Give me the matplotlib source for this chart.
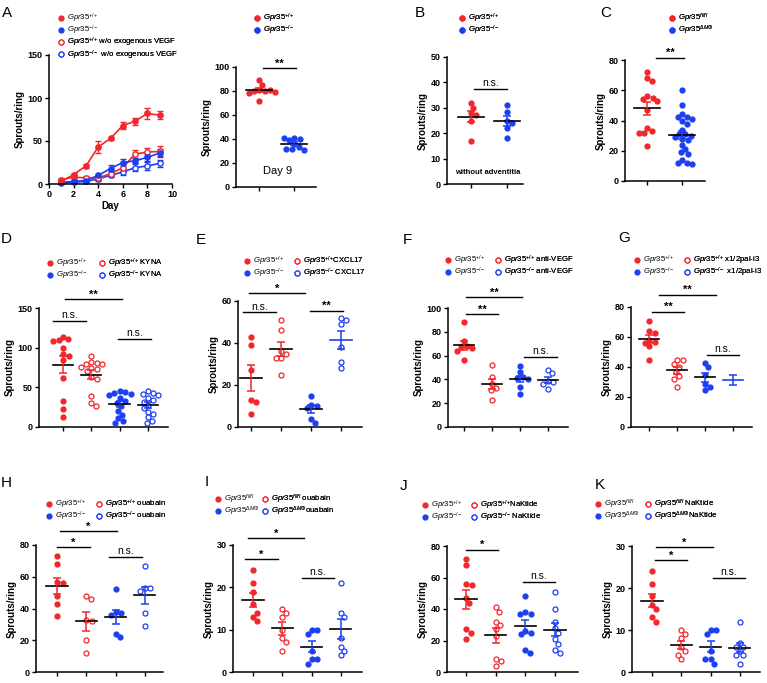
import numpy as np
import matplotlib.pyplot as plt
from matplotlib.lines import Line2D

plt.rcParams['font.family'] = 'Liberation Sans'
plt.rcParams['mathtext.fontset'] = 'custom'
plt.rcParams['mathtext.rm'] = 'Liberation Sans'
plt.rcParams['mathtext.it'] = 'Liberation Sans:italic'
plt.rcParams['mathtext.bf'] = 'Liberation Sans:bold'

RED = '#f2262b'
BLUE = '#1d3ff2'
FIG_W, FIG_H = 767, 683

# ============================================================
# DATA
# ============================================================
# A - time course
days = [1, 2, 3, 4, 5, 6, 7, 8, 9]
a_wt = [3, 11, 21, 43, 53, 68, 73, 82, 80]
a_wt_err = [1, 2, 2, 7, 2, 4, 4, 6, 5]
a_ko = [2, 3, 4, 10, 18, 25, 27, 31, 36]
a_ko_err = [1, 1, 1, 2, 4, 4, 3, 4, 5]
a_wt_novegf = [5, 8, 7, 7, 12, 19, 35, 37, 38]
a_wt_novegf_err = [2, 2, 2, 2, 3, 4, 5, 5, 6]
a_ko_novegf = [1, 2, 3, 6, 10, 14, 19, 21, 24]
a_ko_novegf_err = [1, 1, 1, 2, 2, 3, 4, 5, 4]

# A - day 9
a9_wt = [89, 85, 81, 80, 80, 81, 78, 79, 72]
a9_ko = [41, 40, 39, 41, 36, 33, 32, 32, 31]

# B - without adventitia
b_wt = [32, 30, 28, 27, 25, 17]
b_ko = [31, 28.5, 25, 24, 22, 18]

# C
c_fl = [72, 68, 66, 56, 55, 54, 53, 47, 35, 33, 32, 32, 23]
c_mo = [60, 50, 44, 42, 42, 41, 40, 38, 34, 31, 31, 30, 29, 28, 27, 24, 21, 19,
        18, 14, 12, 12, 11]

# D - KYNA
d_wt = [114, 111, 110, 109, 100, 92, 90, 85, 62, 33, 23, 13]
d_wt_kyna = [89, 82, 81, 80, 79, 76, 75, 73, 70, 63, 61, 39, 30, 27]
d_ko = [45, 44, 43, 42, 40, 36, 33, 30, 26, 20, 15, 11, 8, 5]
d_ko_kyna = [45, 43, 42, 40, 37, 34, 32, 28, 24, 19, 17, 12, 8, 5]

# E - CXCL17
e_wt = [43, 39, 27, 13, 12, 6]
e_wt_cx = [51, 46, 36, 35, 33, 33, 25]
e_ko = [15, 10.5, 10, 9, 4, 2]
e_ko_cx = [52, 51, 49, 38, 31, 28]

# F - anti-VEGF
f_wt = [88, 72, 68, 67, 66, 64, 56]
f_wt_av = [52, 42, 36, 33, 31, 23]
f_ko = [51, 46, 42, 41, 40, 34, 28]
f_ko_av = [48, 45, 39, 38, 36, 32]

# G - x1/2pal-i3
g_wt = [71, 64, 63, 58, 57, 56, 54, 45]
g_wt_pal = [45, 45, 42, 40, 37, 34, 32, 27]
g_ko = [43, 40, 35, 29, 27, 25]
g_ko_pal = []
g_ko_pal_mean, g_ko_pal_sem = 31.6, 3.3

# H - ouabain
h_wt = [73, 68, 57, 56, 48, 43, 35]
h_wt_oua = [48, 46, 33, 32, 20, 12]
h_ko = [52, 38, 37, 36, 24, 22]
h_ko_oua = [67, 53, 53, 51, 37, 29]

# I - ouabain (fl/fl vs dMPhi)
i_fl = [24, 21, 19, 16, 13, 12, 14]
i_fl_oua = [15, 14, 13, 10, 8, 7, 5]
i_mo = [10, 10, 9, 5, 3, 3, 2]
i_mo_oua = [21, 14, 13, 8, 6, 5, 4]

# J - NaKtide
j_wt = [72, 68, 56, 55, 47, 44, 27, 25, 21]
j_wt_nak = [41, 38, 32, 30, 27, 23, 8, 7, 4]
j_ko = [48, 38, 37, 37, 26, 25, 24, 14, 12]
j_ko_nak = [51, 40, 32, 28, 25, 21, 18, 14, 12]

# K - NaKtide (fl/fl vs dMPhi)
k_fl = [24, 21, 18, 16, 13, 12, 15]
k_fl_nak = [10, 9, 8, 6, 5, 3, 4]
k_mo = [10, 10, 9, 5, 3, 2, 3]
k_mo_nak = [12, 7, 6, 6, 5, 4, 4, 2]

WT = r'$\mathit{Gpr35}^{{+}/{+}}$'
KO = r'$\mathit{Gpr35}^{{-}/{-}}$'
FL = r'$\mathit{Gpr35}^{fl/fl}$'
DM = r'$\mathit{Gpr35}^{\Delta M\Phi}$'

FOUR = [(RED, True), (RED, False), (BLUE, True), (BLUE, False)]

# ============================================================
# HELPERS
# ============================================================
fig = plt.figure(figsize=(FIG_W / 100, FIG_H / 100), dpi=100)


def px_axes(left, top, right, bottom):
    return fig.add_axes([left / FIG_W, 1 - bottom / FIG_H,
                         (right - left) / FIG_W, (bottom - top) / FIG_H])


def style_axes(ax, ymax, ystep):
    for s in ['top', 'right']:
        ax.spines[s].set_visible(False)
    for s in ['left', 'bottom']:
        ax.spines[s].set_linewidth(1.1)
    ax.tick_params(direction='out', length=3, width=1.0, labelsize=6.5, pad=1.5)
    ax.set_ylim(0, ymax)
    ax.set_yticks(np.arange(0, ymax + 0.1, ystep))
    for t in ax.get_yticklabels():
        t.set_fontweight('bold')
    ax.set_ylabel('Sprouts/ring', fontsize=7, fontweight='bold', labelpad=2)


def sem(v):
    return np.std(v, ddof=1) / np.sqrt(len(v))


def swarm(ypix, d=5.4):
    # simple beeswarm: horizontal offsets (pixels) so dots don't overlap
    placed, out = [], []
    for y in ypix:
        x_ok = 0.0
        for step in range(0, 80):
            cands = [0.0] if step == 0 else [step * 0.5, -step * 0.5]
            found = False
            for x in cands:
                if all((x - px) ** 2 + (y - py) ** 2 >= d * d for px, py in placed):
                    x_ok, found = x, True
                    break
            if found:
                break
        placed.append((x_ok, y))
        out.append(x_ok)
    return np.array(out)


def marker(col, filled, ms=3.6):
    return Line2D([], [], ls='none', marker='o', ms=ms,
                  mfc=col if filled else 'white', mec=col, mew=0.9)


def legend(ax, handles, labels, x, y, spacing=-0.15):
    leg = ax.legend(handles, labels, loc='upper left',
                    bbox_to_anchor=(x / FIG_W, 1 - y / FIG_H),
                    bbox_transform=fig.transFigure, frameon=False,
                    fontsize=5.6, handlelength=1.0, handletextpad=0.3,
                    borderpad=0, borderaxespad=0, labelspacing=spacing)
    ax.add_artist(leg)
    return leg


def add_sigs(ax, sigs):
    for x1, x2, y, txt in sigs:
        ax.plot([x1, x2], [y, y], color='k', lw=1.0, clip_on=False)
        if '*' in txt:
            ax.annotate(txt, xy=((x1 + x2) / 2, y), xytext=(0, 1.0),
                        textcoords='offset points', ha='center', va='baseline',
                        fontsize=8, fontweight='bold', annotation_clip=False)
        else:
            ax.annotate(txt, xy=((x1 + x2) / 2, y), xytext=(0, 2.0),
                        textcoords='offset points', ha='center', va='baseline',
                        fontsize=7.5, annotation_clip=False)


def dot_panel(yax, top, xend, bottom, g0, sp, groups, styles, ymax, ystep,
              sigs, summary=None, mean_colors=None):
    ax = px_axes(yax, top, xend, bottom)
    style_axes(ax, ymax, ystep)
    ax.set_xlim((yax - g0) / sp, (xend - g0) / sp)
    ax.set_xticks(range(len(groups)))
    ax.set_xticklabels([])
    ppu = (bottom - top) / ymax
    for i, (vals, (col, filled)) in enumerate(zip(groups, styles)):
        vals = np.asarray(vals, float)
        if len(vals):
            offs = swarm(vals * ppu) / sp
            ax.plot(i + offs, vals, ls='none', marker='o', ms=3.6,
                    mfc=col if filled else 'white', mec=col, mew=0.9,
                    zorder=3, clip_on=False)
            m, s = vals.mean(), sem(vals)
        else:
            m, s = summary[i]
        mc = 'k' if mean_colors is None else mean_colors[i]
        ax.plot([i - 0.36, i + 0.36], [m, m], color=mc, lw=1.2, zorder=4)
        ax.errorbar(i, m, yerr=s, fmt='none', ecolor=col, capsize=3.0,
                    elinewidth=1.1, capthick=1.1, zorder=4)
    add_sigs(ax, sigs)
    return ax


# ============================================================
# ROW 1
# ============================================================
# A - time course
ax = px_axes(49, 55, 172, 184)
style_axes(ax, 150, 50)
ax.set_xlim(0, 10)
ax.set_xticks(range(0, 11, 2))
for t in ax.get_xticklabels():
    t.set_fontweight('bold')
ax.set_xlabel('Day', fontsize=7, fontweight='bold', labelpad=1)
for y, e, col, filled in [(a_ko_novegf, a_ko_novegf_err, BLUE, False),
                          (a_wt_novegf, a_wt_novegf_err, RED, False),
                          (a_ko, a_ko_err, BLUE, True),
                          (a_wt, a_wt_err, RED, True)]:
    ax.errorbar(days, y, yerr=e, color=col, lw=1.2, marker='o', ms=3.8,
                mfc=col if filled else 'white', mec=col, mew=1.0,
                capsize=2.2, capthick=1.0, elinewidth=1.0, clip_on=False)
legend(ax, [marker(RED, True), marker(BLUE, True)], [WT, KO], 57, 11.5)
legend(ax, [marker(RED, False), marker(BLUE, False)],
       [WT + ' w/o exogenous VEGF', KO + '  w/o exogenous VEGF'], 57, 35.5, -0.05)

# A - day 9
ax = dot_panel(236, 67, 316, 187, 259, 35, [a9_wt, a9_ko],
               [(RED, True), (BLUE, True)], 100, 20, [(0.11, 1.06, 99, '**')])
ax.text(0.54, 13, 'Day 9', fontsize=8, ha='center', va='center')
legend(ax, [marker(RED, True), marker(BLUE, True)], [WT, KO], 253, 11.5)

# B
ax = dot_panel(447, 57, 523, 184, 471, 36, [b_wt, b_ko],
               [(RED, True), (BLUE, True)], 50, 10, [(0.08, 1.0, 37.4, 'n.s.')])
ax.text(0.47, 4.7, 'without adventitia', fontsize=5.5, fontweight='bold',
        ha='center', va='center')
legend(ax, [marker(RED, True), marker(BLUE, True)], [WT, KO], 458, 11.5)

# C
ax = dot_panel(625, 60, 705, 181, 647, 35, [c_fl, c_mo],
               [(RED, True), (BLUE, True)], 80, 20, [(0.26, 1.06, 81.5, '**')])
legend(ax, [marker(RED, True), marker(BLUE, True)], [FL, DM], 668, 11.5)

# ============================================================
# ROW 2
# ============================================================
ax = dot_panel(39, 308, 168, 427, 63, 28.3, [d_wt, d_wt_kyna, d_ko, d_ko_kyna],
               FOUR, 150, 50,
               [(0.07, 2.08, 161, '**'), (-0.35, 0.81, 134, 'n.s.'),
                (1.94, 3.11, 111, 'n.s.')])
legend(ax, [marker(RED, True), marker(BLUE, True)], [WT, KO], 46, 256.5)
legend(ax, [marker(RED, False), marker(BLUE, False)],
       [WT + ' KYNA', KO + ' KYNA'], 98, 256.5)

ax = dot_panel(238, 301, 362, 427, 251, 30, [e_wt, e_wt_cx, e_ko, e_ko_cx],
               FOUR, 60, 20,
               [(-0.07, 1.8, 63.6, '*'), (-0.27, 0.83, 54.6, 'n.s.'),
                (1.97, 3.07, 55.4, '**')],
               mean_colors=['k', 'k', 'k', BLUE])
legend(ax, [marker(RED, True), marker(BLUE, True)], [WT, KO], 243, 254.5)
legend(ax, [marker(RED, False), marker(BLUE, False)],
       [WT + 'CXCL17', KO + ' CXCL17'], 293, 254.5)

ax = dot_panel(448, 308, 568, 427, 464, 28, [f_wt, f_wt_av, f_ko, f_ko_av],
               FOUR, 100, 20,
               [(0.07, 2.07, 109, '**'), (0.07, 1.21, 95, '**'),
                (2.14, 3.32, 59, 'n.s.')])
legend(ax, [marker(RED, True), marker(BLUE, True)], [WT, KO], 444, 253.5)
legend(ax, [marker(RED, False), marker(BLUE, False)],
       [WT + ' anti-VEGF', KO + ' anti-VEGF'], 494, 253.5)

ax = dot_panel(631, 307, 752, 427, 649, 28, [g_wt, g_wt_pal, g_ko, g_ko_pal],
               FOUR, 80, 20,
               [(0.36, 2.39, 88.3, '**'), (0.11, 1.25, 77, '**'),
                (2.07, 3.21, 48.2, 'n.s.')],
               summary={3: (g_ko_pal_mean, g_ko_pal_sem)},
               mean_colors=['k', 'k', 'k', BLUE])
legend(ax, [marker(RED, True), marker(BLUE, True)], [WT, KO], 633, 253.5)
legend(ax, [marker(RED, False), marker(BLUE, False)],
       [WT + ' x1/2pal-i3', KO + '  x1/2pal-i3'], 683, 253.5)

# ============================================================
# ROW 3
# ============================================================
ax = dot_panel(36, 545, 163, 672, 57, 29.3, [h_wt, h_wt_oua, h_ko, h_ko_oua],
               FOUR, 80, 20,
               [(0.1, 2.05, 88.6, '*'), (0.0, 1.13, 78.5, '*'),
                (1.77, 2.9, 72.3, 'n.s.')])
legend(ax, [marker(RED, True), marker(BLUE, True)], [WT, KO], 45, 497.5)
legend(ax, [marker(RED, False), marker(BLUE, False)],
       [WT + ' ouabain', KO + ' ouabain'], 95, 497.5)

ax = dot_panel(233, 545, 362, 672, 253, 29.3, [i_fl, i_fl_oua, i_mo, i_mo_oua],
               FOUR, 30, 10,
               [(-0.17, 1.74, 31.6, '*'), (-0.27, 0.85, 26.6, '*'),
                (1.67, 2.76, 22.3, 'n.s.')])
legend(ax, [marker(RED, True), marker(BLUE, True)], [FL, DM], 214, 492.5)
legend(ax, [marker(RED, False), marker(BLUE, False)],
       [FL + ' ouabain', DM + 'ouabain'], 261, 492.5)

ax = dot_panel(447, 546, 578, 672, 466, 29.7, [j_wt, j_wt_nak, j_ko, j_ko_nak],
               FOUR, 80, 20,
               [(0.0, 1.08, 77.7, '*'), (1.92, 3.0, 57.4, 'n.s.')])
legend(ax, [marker(RED, True), marker(BLUE, True)], [WT, KO], 421, 498.5)
legend(ax, [marker(RED, False), marker(BLUE, False)],
       [WT + 'NaKtide', KO + ' NaKtide'], 470, 498.5)

ax = dot_panel(632, 546, 760, 672, 652, 29.3, [k_fl, k_fl_nak, k_mo, k_mo_nak],
               FOUR, 30, 10,
               [(0.14, 2.08, 29.8, '*'), (0.1, 1.19, 26.7, '*'),
                (2.08, 3.17, 22.4, 'n.s.')])
legend(ax, [marker(RED, True), marker(BLUE, True)], [FL, DM], 594, 497.5)
legend(ax, [marker(RED, False), marker(BLUE, False)],
       [FL + ' NaKtide', DM + 'NaKtide'], 644, 497.5)

# ============================================================
# PANEL LETTERS
# ============================================================
for letter, x, y in [('A', 7, 13), ('B', 420, 13), ('C', 606, 13),
                     ('D', 6, 239), ('E', 201, 240), ('F', 407, 240),
                     ('G', 624, 238), ('H', 6, 483), ('I', 207, 482),
                     ('J', 404, 486), ('K', 600, 485)]:
    fig.text(x / FIG_W, 1 - y / FIG_H, letter, fontsize=11,
             ha='center', va='center')

fig.savefig('out.png', dpi=100)
